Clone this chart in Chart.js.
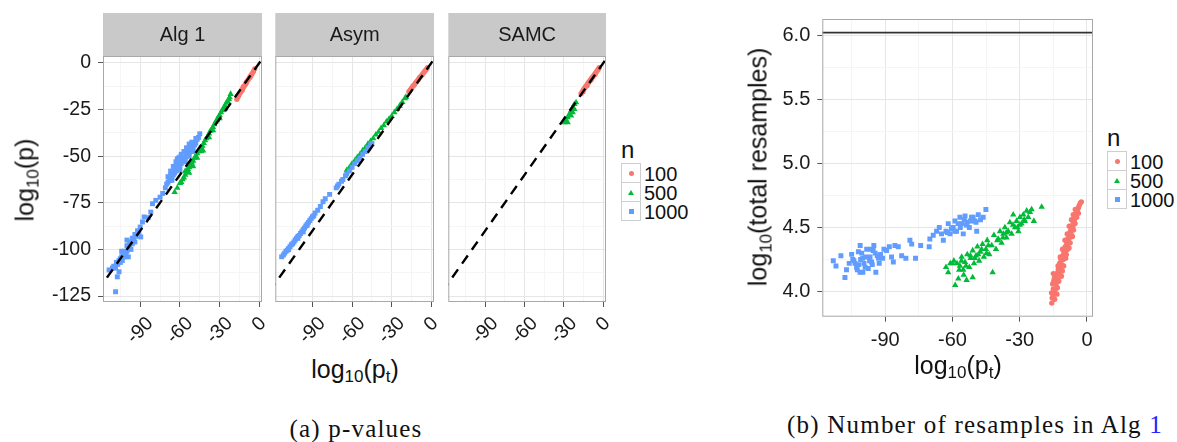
<!DOCTYPE html>
<html>
<head>
<meta charset="utf-8">
<script src="https://cdn.jsdelivr.net/npm/chart.js@4.4.1/dist/chart.umd.min.js"></script>
<style>
  body { margin: 0; width: 1177px; height: 442px; position: relative; overflow: hidden; background: #fff;
         font-family: "Liberation Sans", Arial, sans-serif; color: #111; }
  canvas { position: absolute; }
  .t { position: absolute; white-space: nowrap; line-height: 1; transform: translate(-50%, -50%); }
  .t sub { font-size: 68%; vertical-align: -0.28em; line-height: 0; }
  .rot { transform: translate(-50%, -50%) rotate(-90deg); }
  .cap { font-family: "Liberation Serif", "Times New Roman", serif; font-size: 25px; letter-spacing: 1.2px; }
  .leg { position: absolute; }
  .leg .title { font-size: 24px; line-height: 1; margin-bottom: 2px; }
  .leg .row { display: flex; align-items: center; height: 19px; font-size: 20px; line-height: 1; }
  .leg .key { width: 18px; height: 18px; border: 1px solid #cfcfcf; background: #fff; margin-right: 3px; margin-top: -1px;
              display: flex; align-items: center; justify-content: center; }
  .dot { width: 5px; height: 5px; border-radius: 50%; }
  .sq { width: 5px; height: 5px; }
  .tri { width: 0; height: 0; border-left: 3px solid transparent; border-right: 3px solid transparent; border-bottom: 5px solid #00BA38; }
</style>
</head>
<body>
<canvas id="alg1" width="268" height="350" style="left:0;top:0"></canvas>
<canvas id="asym" width="170" height="350" style="left:268px;top:0"></canvas>
<canvas id="samc" width="172" height="350" style="left:438px;top:0"></canvas>
<canvas id="resamp" width="360" height="362" style="left:740px;top:0"></canvas>

<div class="t rot" style="left:25px;top:180px;font-size:25px">log<sub>10</sub>(p)</div>
<div class="t" style="left:355px;top:369px;font-size:25px">log<sub>10</sub>(p<sub>t</sub>)</div>
<div class="t rot" style="left:758px;top:167px;font-size:25px">log<sub>10</sub>(total resamples)</div>
<div class="t" style="left:958px;top:365px;font-size:25px">log<sub>10</sub>(p<sub>t</sub>)</div>

<div class="leg" id="legA" style="left:621px;top:138px"></div>
<div class="leg" id="legB" style="left:1107px;top:126px"></div>

<div class="t cap" style="left:356px;top:428px">(a) p-values</div>
<div class="t cap" style="left:975px;top:424px">(b) Number of resamples in Alg <span style="color:#2323ff">1</span></div>

<script>
// groups and colours
const groups = ['100', '500', '1000'];
const colors = ['#F8766D', '#00BA38', '#619CFF'];
const facets = ['Alg 1', 'Asym', 'SAMC'];

// axis ticks
const aXTicks = [-90, -60, -30, 0];
const aYTicks = [-125, -100, -75, -50, -25, 0];
const bXTicks = [-90, -60, -30, 0];
const bYTicks = [4.0, 4.5, 5.0, 5.5, 6.0];

// reference lines
const diagLine = [[-130, -130], [10, 10]];
const capLine = [[-130, 6.02], [10, 6.02]];

// panel (a) Alg 1: [log10(pt), log10(p)]
const alg1Red = [[-17,-19.5],[-16.5,-17.8],[-16,-18],[-15.5,-17.3],[-14.5,-16],[-13.5,-15],[-13,-14.6],[-12.5,-13.6],
  [-12,-12.8],[-11.5,-12.5],[-10.5,-11.5],[-10,-10.8],[-9.5,-10.1],[-8.5,-9.1],[-7.5,-8],[-7,-7.6],[-6.5,-6.9],
  [-5.5,-5.8],[-4.5,-4.6],[-3.5,-3.2]];
const alg1Green = [[-21.7,-16.7],[-22.5,-18.5],[-23,-19.5],[-24,-20.5],[-25,-21.5],[-26,-23],[-26,-24.5],[-27,-24],
  [-28,-25.5],[-29,-26.5],[-30,-28],[-30,-29.8],[-31,-29],[-32,-30.5],[-33,-31.5],[-34,-33],[-35,-34.5],[-35,-36.2],
  [-36,-35.5],[-37,-36.5],[-38,-38],[-38,-40],[-39,-39.5],[-40,-40.5],[-41,-41.5],[-42,-43],[-42.5,-47],[-43,-44.5],
  [-44,-45.5],[-44,-47.5],[-45,-46.5],[-46,-47.5],[-47,-48.5],[-47,-51],[-48,-50],[-49,-51],[-50,-52.5],[-50,-55.5],
  [-51,-53.5],[-52,-55],[-53,-56],[-53,-59],[-54,-57],[-55,-58.5],[-56,-60],[-56,-58],[-57,-61.5],[-58,-62.5],
  [-59,-64],[-60,-64.5],[-62,-67],[-64,-69.3]];
const alg1Blue = [[-45,-38],[-46,-40],[-47,-41],[-48,-40.5],[-48,-43],[-49,-44],[-50,-45],[-50,-47.5],[-51,-46],
  [-52,-47],[-52,-45],[-53,-48],[-53,-50],[-54,-49],[-55,-50],[-55,-47],[-56,-51],[-56,-53],[-57,-52],[-58,-53],
  [-58,-50.5],[-59,-54],[-60,-55],[-60,-57.5],[-61,-56],[-61,-53],[-62,-57],[-62,-54.5],[-63,-58],[-64,-59],
  [-64,-57],[-65,-60],[-66,-61],[-66,-63],[-67,-62],[-67,-60],[-68,-63],[-69,-64],[-70,-65],[-71,-67],
  [-57,-47.5],[-59,-49],[-61,-51],[-63,-53],[-65,-55.5],[-67,-58],[-69,-61],[-55,-45.5],[-53,-43.5],[-51,-42.5],
  [-62,-51.5],[-60,-50.5],
  [-73,-70],[-75,-72],[-78.2,-73.7],[-80.7,-75.5],[-82,-80],[-84,-83],[-87,-82.6],[-88.3,-85.3],[-89.6,-93.3],
  [-90,-88],[-91,-91],[-92,-90],[-93,-93],[-94,-92],[-95,-95],[-96,-94],[-96,-97],[-97,-96],[-98,-99],[-98,-97],
  [-99,-100],[-100,-98],[-100,-101],[-101,-103],[-102,-101],[-102,-104],[-103,-103],[-103.5,-106],[-104,-104],
  [-105,-105],[-105,-107],[-106,-106],[-107,-108],[-108,-107],[-108.6,-110],[-110,-109],[-111,-110],[-113.5,-111],
  [-107.3,-114.7],[-108.6,-122.7],[-106,-112],[-100,-95],[-97,-100],[-94,-96],[-99,-104],[-104,-101]];

// panel (a) Asym
const asymRed = [[-17,-15.5],[-16,-14.5],[-15,-13.5],[-14,-12.5],[-13,-11.8],[-12,-10.8],[-11,-10],[-10,-9],
  [-9,-8],[-8,-7.2],[-7,-6.3],[-6,-5.4],[-5,-4.5],[-4,-3.6],[-3,-2.6]];
const asymGreen = [[-64,-57.5],[-62,-56],[-60,-54],[-58,-52.5],[-56,-50.5],[-54,-49],[-52,-47],[-50,-45.5],
  [-48,-43.5],[-46,-42],[-44,-40.5],[-42,-38.5],[-40,-37],[-38,-35],[-36,-33.5],[-34,-31.5],[-32,-30],[-30,-28.5],
  [-28,-26.5],[-26,-24.8],[-24,-23],[-22,-21],[-20,-19],[-19.3,-18.3]];
const asymBlue = [[-113.3,-104],[-112,-103],[-111,-102],[-110,-101],[-109,-100.5],[-108,-99.5],[-107,-98.5],
  [-106,-97.5],[-105,-97],[-104,-96],[-103,-95],[-102,-94],[-101,-93],[-100,-92.5],[-99,-91.5],[-98,-90.5],
  [-97,-89.5],[-96,-88.5],[-95,-87.5],[-94,-86.5],[-93,-85.5],[-92,-84.5],[-91,-83.5],[-90,-82.5],[-89,-82],
  [-88,-80.5],[-86,-79],[-84,-77],[-82,-74.5],[-80.3,-72.8],[-77,-70.5],[-72,-67],[-71,-66],[-70,-65],[-68,-63.5],
  [-67,-62.5],[-65,-60.5],[-64,-59.5],[-62,-58],[-60,-56],[-58,-54],[-56,-52.5],[-54,-51],[-52,-49],[-50,-47.5],
  [-48,-45.5],[-46,-44],[-45,-43.2],[-101,-94],[-97,-90.5],[-94,-87],[-108,-100]];

// panel (a) SAMC
const samcRed = [[-17,-16.5],[-16,-15.3],[-15.5,-15.5],[-15,-14.2],[-14,-13.2],[-13,-12.2],[-12.5,-12.2],[-12,-11.2],
  [-11,-10.2],[-10,-9.3],[-9.5,-9.2],[-9,-8.3],[-8,-7.4],[-7,-6.4],[-6.5,-6.2],[-6,-5.5],[-5,-4.5],[-4,-3.5],[-3.2,-2.6]];
const samcGreen = [[-22.1,-22.1],[-23.4,-23.9],[-24.6,-25.6],[-22.1,-24.8],[-25.9,-27.4],[-27.2,-29.2],[-28.4,-31],
  [-29.6,-31.9],[-24.6,-28.3],[-27.2,-31.9],[-20.8,-21.2],[-23.4,-26.5]];

// panel (b): [log10(pt), log10(total resamples)]
const resRed = [[-15.7,3.91],[-15.5,3.95],[-15.2,3.96],[-15.8,3.99],[-14.5,3.99],[-15.0,4.02],[-14.0,4.02],
  [-15.3,4.06],[-13.8,4.06],[-14.8,4.08],[-14.6,4.10],[-13.0,4.10],[-15.0,4.14],[-13.6,4.14],[-12.4,4.14],
  [-12.8,4.17],[-11.0,4.16],[-11.8,4.19],[-12.2,4.22],[-11.2,4.21],[-11.6,4.25],[-10.6,4.25],[-9.5,4.26],
  [-10.8,4.28],[-10.0,4.29],[-10.3,4.31],[-9.4,4.32],[-9.7,4.35],[-8.0,4.34],[-8.9,4.36],[-9.0,4.38],[-8.3,4.39],
  [-8.5,4.41],[-7.8,4.42],[-6.5,4.43],[-8.0,4.44],[-7.3,4.45],[-7.4,4.47],[-6.8,4.48],[-6.9,4.50],[-6.3,4.51],
  [-6.2,4.53],[-5.7,4.55],[-5.5,4.57],[-5.0,4.59],[-4.8,4.61],[-4.3,4.63],[-3.9,4.65],[-3.5,4.67],[-3.0,4.69],
  [-2.5,4.70],[-13.2,4.03],[-12.6,4.08],[-14.2,4.12],[-11.4,4.12],[-12.9,4.20],[-10.4,4.20],[-11.9,4.27],
  [-9.2,4.29],[-10.9,4.33],[-8.6,4.33],[-9.8,4.40],[-7.5,4.38],[-8.8,4.45],[-6.9,4.44],[-7.9,4.51],[-6.0,4.48],
  [-6.9,4.56],[-5.3,4.53],[-6.1,4.60],[-4.6,4.58],[-5.2,4.64],[-3.8,4.61],[-14.4,3.94],[-13.4,3.98]];
const resGreen = [[-62.9,4.19],[-61.9,4.15],[-60.0,4.22],[-59.4,4.24],[-58.8,4.05],[-57.4,4.10],[-56.7,4.20],
  [-55.9,4.27],[-55.2,4.17],[-54.4,4.23],[-53.7,4.09],[-53.4,4.29],[-52.5,4.19],[-51.9,4.26],[-51.0,4.32],
  [-50.4,4.22],[-49.5,4.28],[-48.9,4.35],[-48.1,4.24],[-47.5,4.31],[-46.6,4.37],[-46.0,4.27],[-45.1,4.33],
  [-44.5,4.40],[-43.6,4.29],[-42.5,4.36],[-42.1,4.15],[-41.5,4.44],[-40.6,4.33],[-39.6,4.41],[-38.8,4.47],
  [-38.1,4.38],[-37.3,4.45],[-36.6,4.50],[-35.9,4.42],[-35.1,4.47],[-34.4,4.54],[-33.6,4.45],[-32.9,4.60],
  [-32.1,4.50],[-31.4,4.55],[-30.6,4.47],[-29.9,4.58],[-29.2,4.53],[-28.4,4.60],[-27.7,4.55],[-26.9,4.63],
  [-26.2,4.58],[-25.4,4.62],[-24.7,4.64],[-23.7,4.55],[-20.2,4.66],[-58.0,4.22],[-56.0,4.24],[-54.0,4.20],
  [-52.0,4.28],[-50.0,4.26],[-47.0,4.33],[-44.0,4.36],[-40.0,4.40],[-36.0,4.46],[-33.0,4.52],[-30.0,4.52],
  [-28.0,4.56],[-55.0,4.13],[-51.0,4.11],[-61.0,4.22],[-44.8,4.30],[-37.5,4.42],[-31.0,4.50],[-57.0,4.17],[-48.5,4.29]];
const resBlue = [[-113.2,4.24],[-112.0,4.20],[-109.8,4.28],[-108.0,4.11],[-107.3,4.17],[-106.1,4.22],[-105.0,4.29],
  [-104.0,4.24],[-102.8,4.19],[-102.0,4.31],[-101.3,4.15],[-100.1,4.26],[-99.5,4.22],[-98.3,4.33],[-97.6,4.18],
  [-96.8,4.27],[-96.1,4.23],[-95.4,4.32],[-95.1,4.36],[-94.2,4.15],[-93.6,4.28],[-92.7,4.22],[-92.1,4.29],
  [-91.2,4.26],[-90.6,4.33],[-89.4,4.32],[-88.2,4.35],[-87.2,4.27],[-86.4,4.23],[-85.7,4.36],[-84.2,4.35],
  [-82.7,4.28],[-80.8,4.26],[-79.0,4.40],[-78.2,4.37],[-76.5,4.26],[-74.2,4.36],[-101.2,4.36],
  [-103.5,4.22],[-101.0,4.25],[-99.0,4.19],[-97.0,4.24],[-100.5,4.30],[-98.8,4.27],[-95.8,4.21],[-94.5,4.30],
  [-102.5,4.17],[-104.5,4.25],[-96.5,4.33],[-93.0,4.26],[-100.0,4.15],[-101.8,4.21],
  [-70.4,4.35],[-70.1,4.41],[-68.6,4.44],[-67.1,4.47],[-65.9,4.50],[-64.9,4.45],[-64.1,4.40],[-62.9,4.47],
  [-61.9,4.53],[-61.1,4.45],[-59.7,4.50],[-58.9,4.55],[-58.2,4.47],[-56.7,4.58],[-55.9,4.53],[-55.2,4.45],
  [-54.4,4.59],[-53.4,4.54],[-52.5,4.50],[-51.5,4.58],[-50.0,4.55],[-49.2,4.47],[-48.5,4.60],[-47.5,4.56],
  [-46.3,4.58],[-45.1,4.64],[-60.5,4.49],[-57.5,4.53],[-54.8,4.56],[-56.5,4.50],[-52.0,4.55],[-59.0,4.47],
  [-62.3,4.46],[-50.8,4.58],[-53.8,4.52],[-49.5,4.54]];

const FONT = '"Liberation Sans", Arial, sans-serif';
const TEXT = '#1a1a1a';

function pts(arr) {
  return arr.map(p => ({ x: p[0], y: p[1] }));
}

// major ticks plus the minor ones half way between them
function withMinor(majors, min, max) {
  const step = majors[1] - majors[0];
  const out = [];
  for (let v = majors[0] - step; v <= majors[majors.length - 1] + step; v += step / 2) {
    if (v >= min && v <= max) out.push(Math.round(v * 1000) / 1000);
  }
  return out;
}

function isMajor(majors, v) {
  return majors.some(m => Math.abs(m - v) < 1e-6);
}

function pointSet(data, i, order) {
  const styles = ['circle', 'triangle', 'rect'];
  const radii = [2.7, 3.7, 3.5];
  return {
    data: pts(data), backgroundColor: colors[i], borderWidth: 0,
    pointStyle: styles[i], pointRadius: radii[i], order: order
  };
}

function lineSet(data, color, width, dash) {
  return {
    data: pts(data), showLine: true, borderColor: color, borderWidth: width,
    borderDash: dash, pointRadius: 0, order: 0
  };
}

// strip, panel border and x tick labels
const framePlugin = {
  id: 'frame',
  afterDraw(chart, args, opts) {
    const ctx = chart.ctx;
    const ca = chart.chartArea;
    ctx.save();
    if (opts.strip) {
      ctx.fillStyle = '#c9c9c9';
      ctx.fillRect(ca.left, 13, ca.right - ca.left, ca.top - 13);
      ctx.fillStyle = TEXT;
      ctx.font = '20px ' + FONT;
      ctx.textAlign = 'center';
      ctx.textBaseline = 'middle';
      ctx.fillText(opts.strip, (ca.left + ca.right) / 2, 35);
    }
    ctx.strokeStyle = '#a8a8a8';
    ctx.lineWidth = 1;
    ctx.strokeRect(ca.left + 0.5, ca.top + 0.5, ca.right - ca.left - 1, ca.bottom - ca.top - 1);

    const sx = chart.scales.x;
    ctx.fillStyle = TEXT;
    ctx.font = opts.tickFont + 'px ' + FONT;
    opts.xTicks.forEach(v => {
      const s = String(v);
      const x = sx.getPixelForValue(v);
      if (opts.rotate) {
        const w = ctx.measureText(s).width;
        const d = (w + 13) * Math.SQRT1_2 / 2;
        ctx.save();
        ctx.translate(x, ca.bottom + 14 + d);
        ctx.rotate(-Math.PI / 4);
        ctx.textAlign = 'center';
        ctx.textBaseline = 'middle';
        ctx.fillText(s, 0, 0);
        ctx.restore();
      } else {
        ctx.textAlign = 'center';
        ctx.textBaseline = 'alphabetic';
        ctx.fillText(s, x, ca.bottom + 29);
      }
    });
    ctx.restore();
  }
};

function panel(id, cfg) {
  const xAll = withMinor(cfg.xTicks, cfg.xMin, cfg.xMax);
  const yAll = withMinor(cfg.yTicks, cfg.yMin, cfg.yMax);
  return new Chart(document.getElementById(id), {
    type: 'scatter',
    data: { datasets: cfg.datasets },
    options: {
      responsive: false,
      animation: false,
      events: [],
      layout: { padding: { top: cfg.top, right: cfg.right, left: 0, bottom: 0 } },
      plugins: {
        legend: { display: false },
        tooltip: { enabled: false },
        frame: { strip: cfg.strip, xTicks: cfg.xTicks, rotate: cfg.rotate, tickFont: cfg.tickFont }
      },
      scales: {
        x: {
          type: 'linear', min: cfg.xMin, max: cfg.xMax,
          afterBuildTicks: s => { s.ticks = xAll.map(v => ({ value: v })); },
          afterFit: s => { s.height = cfg.xHeight; },
          ticks: { display: false },
          border: { display: false },
          grid: {
            color: c => isMajor(cfg.xTicks, c.tick.value) ? '#e6e6e6' : '#f5f5f5',
            tickColor: c => isMajor(cfg.xTicks, c.tick.value) ? '#555' : 'rgba(0,0,0,0)',
            tickLength: 5
          }
        },
        y: {
          type: 'linear', min: cfg.yMin, max: cfg.yMax,
          afterBuildTicks: s => { s.ticks = yAll.map(v => ({ value: v })); },
          afterFit: s => { s.width = cfg.yWidth; },
          ticks: {
            display: cfg.yLabels, autoSkip: false, padding: 7, color: TEXT,
            font: { family: FONT, size: cfg.tickFont },
            callback: v => isMajor(cfg.yTicks, v) ? cfg.fmt(v) : ''
          },
          border: { display: false },
          grid: {
            color: c => isMajor(cfg.yTicks, c.tick.value) ? '#e6e6e6' : '#f5f5f5',
            tickColor: c => isMajor(cfg.yTicks, c.tick.value) ? '#555' : 'rgba(0,0,0,0)',
            drawTicks: cfg.yLabels,
            tickLength: 5
          }
        }
      }
    },
    plugins: [framePlugin]
  });
}

const aCommon = {
  xMin: -118.1, xMax: 2, yMin: -128.2, yMax: 3.7, xTicks: aXTicks, yTicks: aYTicks,
  top: 56, xHeight: 48, rotate: true, tickFont: 19.5, fmt: v => String(v)
};

panel('alg1', Object.assign({}, aCommon, {
  strip: facets[0], yWidth: 103, right: 6, yLabels: true,
  datasets: [lineSet(diagLine, '#000', 2.4, [10, 7]), pointSet(alg1Blue, 2, 1), pointSet(alg1Green, 1, 2), pointSet(alg1Red, 0, 3)]
}));
panel('asym', Object.assign({}, aCommon, {
  strip: facets[1], yWidth: 7.3, right: 3.7, yLabels: false,
  datasets: [lineSet(diagLine, '#000', 2.4, [10, 7]), pointSet(asymBlue, 2, 1), pointSet(asymGreen, 1, 2), pointSet(asymRed, 0, 3)]
}));
panel('samc', Object.assign({}, aCommon, {
  strip: facets[2], yWidth: 10.3, right: 3.3, yLabels: false,
  datasets: [lineSet(diagLine, '#000', 2.4, [10, 7]), pointSet(samcGreen, 1, 2), pointSet(samcRed, 0, 3)]
}));
panel('resamp', {
  xMin: -118.1, xMax: 2.7, yMin: 3.804, yMax: 6.126, xTicks: bXTicks, yTicks: bYTicks,
  top: 16, xHeight: 362 - 316.7, rotate: false, tickFont: 20, fmt: v => v.toFixed(1),
  strip: null, yWidth: 82.3, right: 7, yLabels: true,
  datasets: [lineSet(capLine, '#333', 1.6, []), pointSet(resBlue, 2, 1), pointSet(resGreen, 1, 2), pointSet(resRed, 0, 3)]
});

// legends
function legend(id) {
  const box = document.getElementById(id);
  let html = '<div class="title">n</div>';
  groups.forEach((g, i) => {
    let mark;
    if (i === 0) mark = '<div class="dot" style="background:' + colors[0] + '"></div>';
    else if (i === 1) mark = '<div class="tri"></div>';
    else mark = '<div class="sq" style="background:' + colors[2] + '"></div>';
    html += '<div class="row"><div class="key">' + mark + '</div>' + g + '</div>';
  });
  box.innerHTML = html;
}
legend('legA');
legend('legB');
</script>
</body>
</html>
